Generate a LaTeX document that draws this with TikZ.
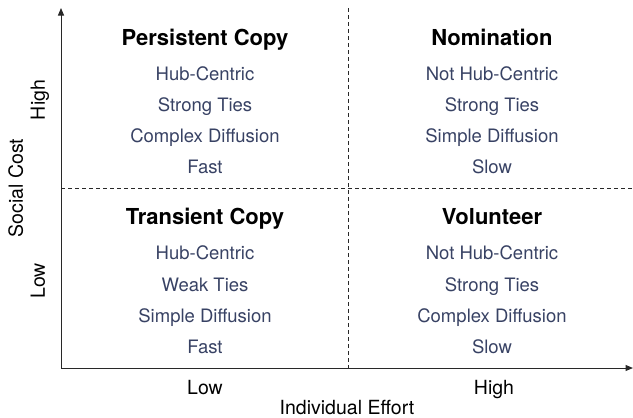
\documentclass[tikz,border=0pt]{standalone}
\usepackage{fontspec}
\setmainfont{TeX Gyre Heros}
\usetikzlibrary{arrows.meta}
\definecolor{itemcol}{RGB}{56,66,100}
\definecolor{axiscol}{RGB}{40,40,40}
\begin{document}
\begin{tikzpicture}[x=1pt,y=-1pt,
  title/.style={font=\fontsize{22}{25}\selectfont\bfseries, text=black, inner sep=0pt, text height=16pt, text depth=4.5pt, yshift=-3pt},
  item/.style={font=\fontsize{18.5}{21}\selectfont, text=itemcol, inner sep=0pt, text height=13.5pt, text depth=4pt, yshift=-2.5pt},
  axlabel/.style={font=\fontsize{19.5}{22}\selectfont, text=black, inner sep=0pt, text height=14pt, text depth=4pt},
  axisline/.style={draw=axiscol, line width=1pt, -{Triangle[length=7.5pt,width=6pt]}},
  divider/.style={draw=axiscol, line width=0.8pt, dash pattern=on 4pt off 3pt}]
\useasboundingbox (0,0) rectangle (633,418);
% axes
\coordinate (origin) at (61,368);
\coordinate (ytop) at (61,8);
\coordinate (xend) at (633,368);
\draw[axisline] (origin) -- (ytop);
\draw[axisline] (origin) -- (xend);
% dividers
\coordinate (vtop) at (348,8);
\coordinate (vbot) at (348,368);
\coordinate (hleft) at (61,188);
\coordinate (hright) at (633,188);
\draw[divider] (vtop) -- (vbot);
\draw[divider] (hleft) -- (hright);
% top-left
\node[title] (tlt) at (205,37) {Persistent Copy};
\node[item] (tl1) at (205,73) {Hub-Centric};
\node[item] (tl2) at (205,104) {Strong Ties};
\node[item] (tl3) at (205,135) {Complex Diffusion};
\node[item] (tl4) at (205,166) {Fast};
% top-right
\node[title] (trt) at (492,37) {Nomination};
\node[item] (tr1) at (492,73) {Not Hub-Centric};
\node[item] (tr2) at (492,104) {Strong Ties};
\node[item] (tr3) at (492,135) {Simple Diffusion};
\node[item] (tr4) at (492,166) {Slow};
% bottom-left
\node[title] (blt) at (205,216) {Transient Copy};
\node[item] (bl1) at (205,252) {Hub-Centric};
\node[item] (bl2) at (205,284) {Weak Ties};
\node[item] (bl3) at (205,315) {Simple Diffusion};
\node[item] (bl4) at (205,346) {Fast};
% bottom-right
\node[title] (brt) at (492,216) {Volunteer};
\node[item] (br1) at (492,252) {Not Hub-Centric};
\node[item] (br2) at (492,284) {Strong Ties};
\node[item] (br3) at (492,315) {Complex Diffusion};
\node[item] (br4) at (492,346) {Slow};
% axis labels
\node[axlabel, yshift=-2pt] (xlow) at (205,387) {Low};
\node[axlabel, yshift=-2pt] (xhigh) at (494,387) {High};
\node[axlabel, yshift=-1.5pt] (xlab) at (347,408) {Individual Effort};
\node[axlabel, rotate=90] (yhigh) at (40,100) {High};
\node[axlabel, rotate=90] (ylow) at (40,281) {Low};
\node[axlabel, rotate=90] (ylab) at (18,188) {Social Cost};
\end{tikzpicture}
\end{document}
